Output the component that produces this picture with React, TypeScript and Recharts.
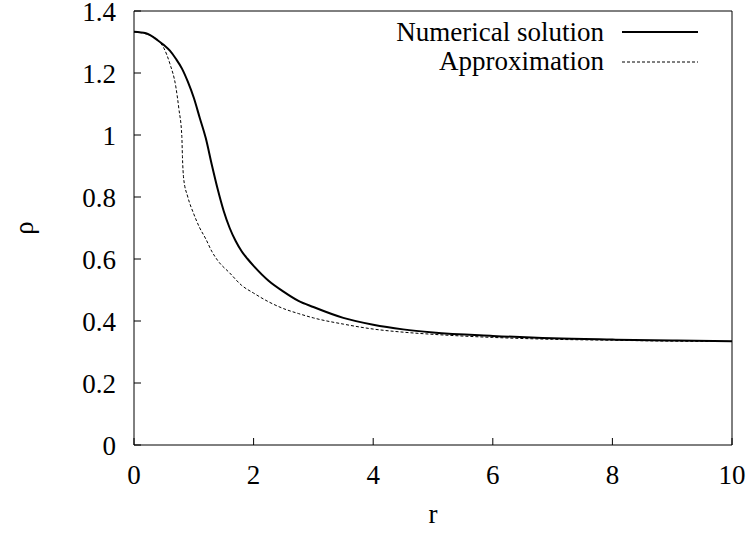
import { Line, LineChart, XAxis, YAxis } from "recharts";

// r values and densities
const rNumerical = [
  0, 0.2, 0.4, 0.5, 0.6, 0.7, 0.8, 0.9, 1.0, 1.1, 1.2, 1.3, 1.4, 1.5, 1.6, 1.7,
  1.8, 1.9, 2.0, 2.25, 2.5, 2.75, 3, 3.5, 4, 4.5, 5, 6, 7, 8, 9, 10,
];
const rhoNumerical = [
  1.333, 1.328, 1.305, 1.29, 1.272, 1.246, 1.215, 1.172, 1.12, 1.055, 0.99,
  0.905, 0.825, 0.755, 0.7, 0.658, 0.625, 0.6, 0.578, 0.53, 0.495, 0.465,
  0.445, 0.41, 0.388, 0.373, 0.363, 0.352, 0.344, 0.34, 0.337, 0.335,
];

const rApprox = [
  0, 0.2, 0.4, 0.5, 0.6, 0.7, 0.75, 0.8, 0.81, 0.83, 0.9, 1.0, 1.1, 1.2, 1.3,
  1.4, 1.6, 1.8, 2.0, 2.25, 2.5, 2.75, 3, 3.5, 4, 4.5, 5, 6, 7, 8, 9, 10,
];
const rhoApprox = [
  1.333, 1.326, 1.305, 1.28, 1.23, 1.155, 1.085, 0.995, 0.93, 0.86, 0.8, 0.745,
  0.7, 0.665, 0.625, 0.595, 0.555, 0.515, 0.49, 0.462, 0.44, 0.424, 0.41, 0.39,
  0.374, 0.364, 0.357, 0.347, 0.341, 0.338, 0.335, 0.334,
];

const xTicks = [0, 2, 4, 6, 8, 10];
const yTicks = [0, 0.2, 0.4, 0.6, 0.8, 1, 1.2, 1.4];
const seriesNames = ["Numerical solution", "Approximation"];

const numerical = rNumerical.map((r, i) => ({ r, rho: rhoNumerical[i] }));
const approx = rApprox.map((r, i) => ({ r, rho: rhoApprox[i] }));

const FONT = "Liberation Serif, Times New Roman, Times, DejaVu Serif, serif";
const tickStyle = { fontSize: 27, fill: "#000", fontFamily: FONT };

const YLabel = (props: any) => {
  const { viewBox } = props;
  const cy = viewBox.y + viewBox.height / 2;
  return (
    <text
      x={24}
      y={cy}
      transform={`rotate(-90, 24, ${cy})`}
      textAnchor="middle"
      dominantBaseline="central"
      fontSize={27}
      fontFamily={FONT}
      fill="#000"
    >
      ρ
    </text>
  );
};

const XLabel = (props: any) => {
  const { viewBox } = props;
  return (
    <text
      x={viewBox.x + viewBox.width / 2}
      y={523}
      textAnchor="middle"
      fontSize={27}
      fontFamily={FONT}
      fill="#000"
    >
      r
    </text>
  );
};

const KeyBox = () => (
  <g>
    {seriesNames.map((name, i) => (
      <g key={name}>
        <text
          x={604}
          y={41 + i * 29}
          textAnchor="end"
          fontSize={27}
          fontFamily={FONT}
          fill="#000"
        >
          {name}
        </text>
        <line
          x1={622}
          x2={698}
          y1={32 + i * 30}
          y2={32 + i * 30}
          stroke="#000"
          strokeWidth={i === 0 ? 2 : 1}
          strokeDasharray={i === 0 ? undefined : "3 2"}
        />
      </g>
    ))}
  </g>
);

export default function App() {
  return (
    <div style={{ position: "absolute", left: 0, top: 0, fontFamily: FONT }}>
      <LineChart
        width={752}
        height={536}
        margin={{ top: 10, right: 19, left: 0, bottom: 0 }}
        style={{ fontFamily: FONT, background: "#fff" }}
      >
        <XAxis
          type="number"
          dataKey="r"
          domain={[0, 10]}
          ticks={xTicks}
          interval={0}
          height={91}
          tick={tickStyle}
          tickSize={-7}
          tickMargin={27}
          stroke="#000"
          allowDuplicatedCategory={false}
          label={<XLabel />}
        />
        <XAxis
          xAxisId="top"
          orientation="top"
          type="number"
          dataKey="r"
          domain={[0, 10]}
          ticks={xTicks}
          interval={0}
          height={1}
          tick={false}
          tickSize={-7}
          stroke="#000"
        />
        <YAxis
          type="number"
          domain={[0, 1.4]}
          ticks={yTicks}
          interval={0}
          width={134}
          tick={tickStyle}
          tickSize={-7}
          tickMargin={25}
          stroke="#000"
          label={<YLabel />}
        />
        <YAxis
          yAxisId="right"
          orientation="right"
          type="number"
          domain={[0, 1.4]}
          ticks={yTicks}
          interval={0}
          width={1}
          tick={false}
          tickSize={-7}
          stroke="#000"
        />
        <Line
          data={numerical}
          dataKey="rho"
          name={seriesNames[0]}
          type="monotone"
          stroke="#000"
          strokeWidth={2}
          dot={false}
          isAnimationActive={false}
        />
        <Line
          data={approx}
          dataKey="rho"
          name={seriesNames[1]}
          type="monotone"
          stroke="#000"
          strokeWidth={1}
          strokeDasharray="3 2"
          dot={false}
          isAnimationActive={false}
        />
        <KeyBox />
      </LineChart>
    </div>
  );
}
